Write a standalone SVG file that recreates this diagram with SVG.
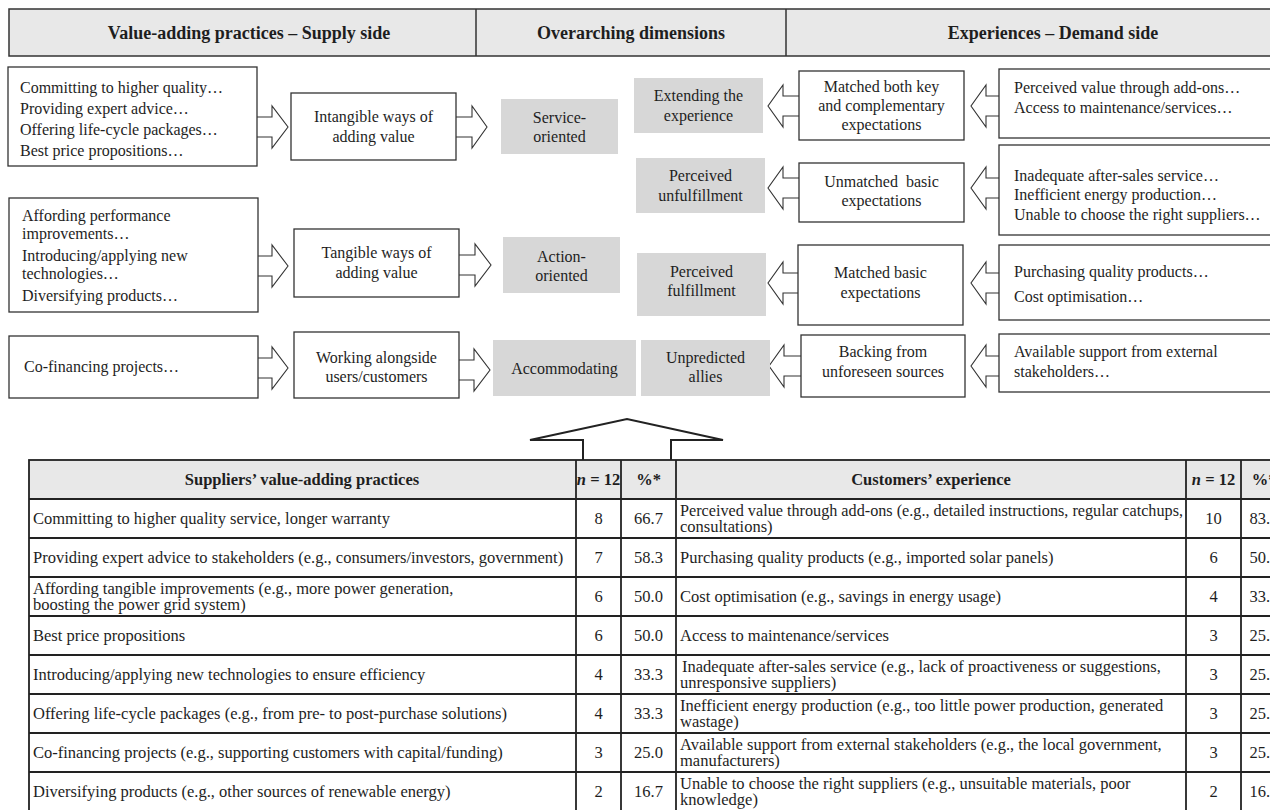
<svg xmlns="http://www.w3.org/2000/svg" width="1270" height="810" viewBox="0 0 1270 810">
<style>
text{font-family:"Liberation Serif","Times New Roman",serif;fill:#1e1e1e}
.hd{font-size:18px;font-weight:bold;text-anchor:middle}
.t{font-size:16px}
.c{text-anchor:middle}
.box{fill:#fff;stroke:#333;stroke-width:1.3}
.gray{fill:#d7d7d7;stroke:none}
.arr{fill:#fff;stroke:#333;stroke-width:1.1}
.tb{font-size:16.5px}
.tbh{font-size:16.5px;font-weight:bold}
.ln{stroke:#222;stroke-width:1.8;fill:none}
</style>
<g id="header">
<rect x="9" y="9" width="1320" height="47" fill="#e8e8e8" stroke="#333" stroke-width="1.5"/>
<line x1="476" y1="9" x2="476" y2="56" stroke="#333" stroke-width="1.5"/>
<line x1="786" y1="9" x2="786" y2="56" stroke="#333" stroke-width="1.5"/>
<text class="hd" x="249" y="38.5">Value-adding practices – Supply side</text>
<text class="hd" x="631" y="38.5">Overarching dimensions</text>
<text class="hd" x="1053" y="38.5">Experiences – Demand side</text>
</g>
<g id="connectors">
<path class="arr" d="M257,117 H272 V106 L288,127 L272,148 V137 H257"/>
<path class="arr" d="M456,117 H472 V106 L487,127 L472,148 V137 H456"/>
<path class="arr" d="M258,256 H272 V245 L288,266 L272,287 V276 H258"/>
<path class="arr" d="M459,255 H475 V244 L491,265 L475,286 V275 H459"/>
<path class="arr" d="M258,358 H272 V347 L288,368 L272,389 V378 H258"/>
<path class="arr" d="M459,360 H474 V349 L490,370 L474,391 V380 H459"/>
<path class="arr" d="M799,96 H783 V85 L768,106 L783,127 V116 H799"/>
<path class="arr" d="M999,96 H986 V85 L971,106 L986,127 V116 H999"/>
<path class="arr" d="M799,178 H783 V167 L768,188 L783,209 V198 H799"/>
<path class="arr" d="M999,178 H986 V167 L971,188 L986,209 V198 H999"/>
<path class="arr" d="M798,273 H783 V262 L768,283 L783,304 V293 H798"/>
<path class="arr" d="M999,273 H986 V262 L971,283 L986,304 V293 H999"/>
<path class="arr" d="M801,356 H784 V345 L769,366 L784,387 V376 H801"/>
<path class="arr" d="M999,356 H986 V345 L971,366 L986,387 V376 H999"/>
<path d="M583,460 V440 H530 L627,419 L723,440 H671 V460" fill="#fff" stroke="#222" stroke-width="2"/>
</g>
<g id="supply-a">
<rect class="box" x="8" y="67" width="249" height="99"/>
<text class="t" x="20" y="92.5">Committing to higher quality…</text>
<text class="t" x="20" y="113.5">Providing expert advice…</text>
<text class="t" x="20" y="134.5">Offering life-cycle packages…</text>
<text class="t" x="20" y="155.5">Best price propositions…</text>
</g>
<g id="intangible">
<rect class="box" x="291" y="93" width="165" height="67"/>
<text class="t c" x="373.5" y="122">Intangible ways of</text>
<text class="t c" x="373.5" y="142">adding value</text>
</g>
<g id="service-oriented">
<rect class="gray" x="501" y="99" width="117" height="55"/>
<text class="t c" x="559.5" y="123">Service-</text>
<text class="t c" x="559.5" y="142">oriented</text>
</g>
<g id="supply-b">
<rect class="box" x="9" y="198" width="249" height="114"/>
<text class="t" x="22" y="221">Affording performance</text>
<text class="t" x="22" y="239">improvements…</text>
<text class="t" x="22" y="261">Introducing/applying new</text>
<text class="t" x="22" y="279">technologies…</text>
<text class="t" x="22" y="301">Diversifying products…</text>
</g>
<g id="tangible">
<rect class="box" x="294" y="229" width="165" height="68"/>
<text class="t c" x="376.5" y="258">Tangible ways of</text>
<text class="t c" x="376.5" y="278">adding value</text>
</g>
<g id="action-oriented">
<rect class="gray" x="503" y="237" width="117" height="56"/>
<text class="t c" x="561.5" y="262">Action-</text>
<text class="t c" x="561.5" y="281">oriented</text>
</g>
<g id="supply-c">
<rect class="box" x="9" y="336" width="249" height="62"/>
<text class="t" x="24" y="372">Co-financing projects…</text>
</g>
<g id="working">
<rect class="box" x="294" y="332" width="165" height="66"/>
<text class="t c" x="376.5" y="363">Working alongside</text>
<text class="t c" x="376.5" y="382">users/customers</text>
</g>
<g id="accommodating">
<rect class="gray" x="493" y="340" width="143" height="56"/>
<text class="t c" x="564.5" y="374">Accommodating</text>
</g>
<g id="extending">
<rect class="gray" x="634" y="78" width="129" height="55"/>
<text class="t c" x="698.5" y="101">Extending the</text>
<text class="t c" x="698.5" y="121">experience</text>
</g>
<g id="unfulfillment">
<rect class="gray" x="636" y="158" width="129" height="55"/>
<text class="t c" x="700.5" y="181">Perceived</text>
<text class="t c" x="700.5" y="201">unfulfillment</text>
</g>
<g id="fulfillment">
<rect class="gray" x="637" y="253" width="129" height="63"/>
<text class="t c" x="701.5" y="277">Perceived</text>
<text class="t c" x="701.5" y="296">fulfillment</text>
</g>
<g id="unpredicted">
<rect class="gray" x="641" y="340" width="129" height="56"/>
<text class="t c" x="705.5" y="363">Unpredicted</text>
<text class="t c" x="705.5" y="382">allies</text>
</g>
<g id="matched-both">
<rect class="box" x="799" y="71" width="165" height="69"/>
<text class="t c" x="881.5" y="92">Matched both key</text>
<text class="t c" x="881.5" y="111">and complementary</text>
<text class="t c" x="881.5" y="130">expectations</text>
</g>
<g id="unmatched">
<rect class="box" x="799" y="163" width="165" height="59"/>
<text class="t c" x="881.5" y="187" xml:space="preserve">Unmatched  basic</text>
<text class="t c" x="881.5" y="206">expectations</text>
</g>
<g id="matched-basic">
<rect class="box" x="798" y="245" width="165" height="80"/>
<text class="t c" x="880.5" y="278">Matched basic</text>
<text class="t c" x="880.5" y="298">expectations</text>
</g>
<g id="backing">
<rect class="box" x="801" y="335" width="164" height="62"/>
<text class="t c" x="883" y="357">Backing from</text>
<text class="t c" x="883" y="377">unforeseen sources</text>
</g>
<g id="demand-a">
<rect class="box" x="999" y="69" width="330" height="69"/>
<text class="t" x="1014" y="93">Perceived value through add-ons…</text>
<text class="t" x="1014" y="113">Access to maintenance/services…</text>
</g>
<g id="demand-b">
<rect class="box" x="999" y="145" width="330" height="90"/>
<text class="t" x="1014" y="181">Inadequate after-sales service…</text>
<text class="t" x="1014" y="200">Inefficient energy production…</text>
<text class="t" x="1014" y="220">Unable to choose the right suppliers…</text>
</g>
<g id="demand-c">
<rect class="box" x="999" y="245" width="330" height="75"/>
<text class="t" x="1014" y="277">Purchasing quality products…</text>
<text class="t" x="1014" y="302">Cost optimisation…</text>
</g>
<g id="demand-d">
<rect class="box" x="999" y="334" width="330" height="58"/>
<text class="t" x="1014" y="357">Available support from external</text>
<text class="t" x="1014" y="377">stakeholders…</text>
</g>
<g id="table">
<rect x="29" y="460" width="1270" height="39" fill="#e8e8e8"/>
<rect x="29" y="460" width="1270" height="360" class="ln"/>
<g class="ln">
<line x1="29" y1="499" x2="1300" y2="499"/>
<line x1="29" y1="538" x2="1300" y2="538"/>
<line x1="29" y1="577" x2="1300" y2="577"/>
<line x1="29" y1="616" x2="1300" y2="616"/>
<line x1="29" y1="655" x2="1300" y2="655"/>
<line x1="29" y1="694" x2="1300" y2="694"/>
<line x1="29" y1="733" x2="1300" y2="733"/>
<line x1="29" y1="772" x2="1300" y2="772"/>
<line x1="576" y1="460" x2="576" y2="820"/>
<line x1="621" y1="460" x2="621" y2="820"/>
<line x1="676" y1="460" x2="676" y2="820"/>
<line x1="1186" y1="460" x2="1186" y2="820"/>
<line x1="1241" y1="460" x2="1241" y2="820"/>
</g>
<text class="tbh c" x="302" y="485">Suppliers’ value-adding practices</text>
<text class="tbh c" x="598.5" y="485"><tspan font-style="italic">n</tspan> = 12</text>
<text class="tbh c" x="648.5" y="485">%*</text>
<text class="tbh c" x="931" y="485">Customers’ experience</text>
<text class="tbh c" x="1213.5" y="485"><tspan font-style="italic">n</tspan> = 12</text>
<text class="tbh c" x="1264" y="485">%*</text>
<g class="tb">
<text x="33" y="524">Committing to higher quality service, longer warranty</text>
<text x="33" y="563">Providing expert advice to stakeholders (e.g., consumers/investors, government)</text>
<text x="33" y="593.5">Affording tangible improvements (e.g., more power generation,</text>
<text x="33" y="610">boosting the power grid system)</text>
<text x="33" y="641">Best price propositions</text>
<text x="33" y="680">Introducing/applying new technologies to ensure efficiency</text>
<text x="33" y="719">Offering life-cycle packages (e.g., from pre- to post-purchase solutions)</text>
<text x="33" y="758">Co-financing projects (e.g., supporting customers with capital/funding)</text>
<text x="33" y="797">Diversifying products (e.g., other sources of renewable energy)</text>
<text x="680" y="515.5" textLength="503" lengthAdjust="spacingAndGlyphs">Perceived value through add-ons (e.g., detailed instructions, regular catchups,</text>
<text x="680" y="532">consultations)</text>
<text x="680" y="563">Purchasing quality products (e.g., imported solar panels)</text>
<text x="680" y="602">Cost optimisation (e.g., savings in energy usage)</text>
<text x="680" y="641">Access to maintenance/services</text>
<text x="682" y="671.5">Inadequate after-sales service (e.g., lack of proactiveness or suggestions,</text>
<text x="680" y="688">unresponsive suppliers)</text>
<text x="680" y="710.5">Inefficient energy production (e.g., too little power production, generated</text>
<text x="680" y="727">wastage)</text>
<text x="680" y="749.5">Available support from external stakeholders (e.g., the local government,</text>
<text x="680" y="766">manufacturers)</text>
<text x="680" y="788.5">Unable to choose the right suppliers (e.g., unsuitable materials, poor</text>
<text x="680" y="805">knowledge)</text>
</g>
<g class="tb c">
<text x="598.5" y="524">8</text><text x="648.5" y="524">66.7</text>
<text x="598.5" y="563">7</text><text x="648.5" y="563">58.3</text>
<text x="598.5" y="602">6</text><text x="648.5" y="602">50.0</text>
<text x="598.5" y="641">6</text><text x="648.5" y="641">50.0</text>
<text x="598.5" y="680">4</text><text x="648.5" y="680">33.3</text>
<text x="598.5" y="719">4</text><text x="648.5" y="719">33.3</text>
<text x="598.5" y="758">3</text><text x="648.5" y="758">25.0</text>
<text x="598.5" y="797">2</text><text x="648.5" y="797">16.7</text>
<text x="1213.5" y="524">10</text><text x="1264" y="524">83.3</text>
<text x="1213.5" y="563">6</text><text x="1264" y="563">50.0</text>
<text x="1213.5" y="602">4</text><text x="1264" y="602">33.3</text>
<text x="1213.5" y="641">3</text><text x="1264" y="641">25.0</text>
<text x="1213.5" y="680">3</text><text x="1264" y="680">25.0</text>
<text x="1213.5" y="719">3</text><text x="1264" y="719">25.0</text>
<text x="1213.5" y="758">3</text><text x="1264" y="758">25.0</text>
<text x="1213.5" y="797">2</text><text x="1264" y="797">16.7</text>
</g>
</g>
</svg>
